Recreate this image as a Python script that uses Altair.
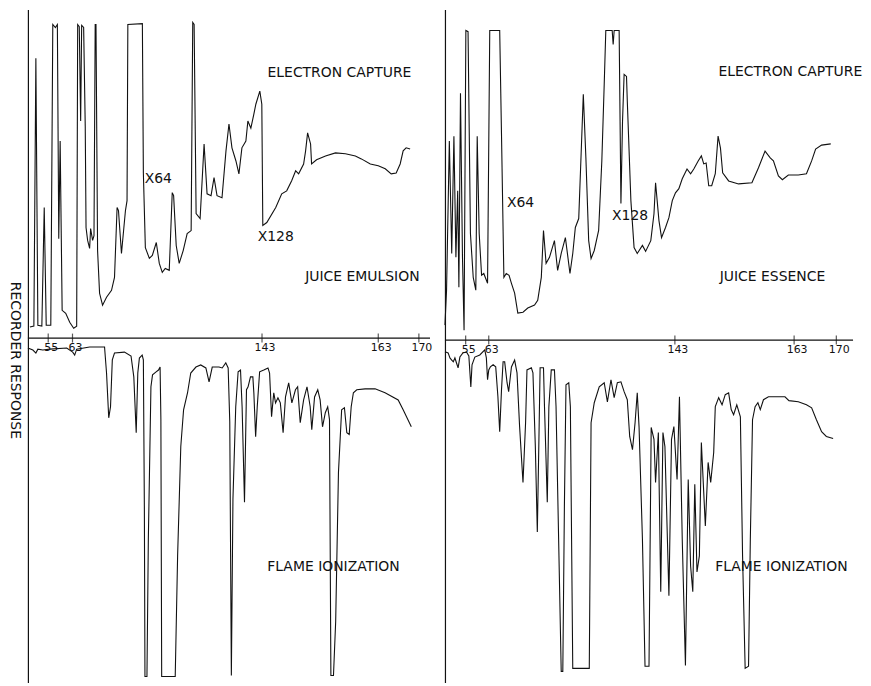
import altair as alt
import pandas as pd

# ---------------- Juice emulsion (left) ----------------
# electron capture trace (time units, response units)
emul_ec_time = [0.5, 1.5, 2.0, 2.5, 3.5, 4.1, 4.6, 5.75, 6.25, 6.9, 7.4, 7.75, 8.1, 8.6, 9.5, 10.5,
                11.5, 12.25, 12.5, 12.9, 13.25, 13.5, 14.0, 14.4, 14.6, 15.0, 15.5, 15.75, 16.25, 16.6,
                16.9, 17.1, 17.5, 18.0, 18.75, 19.75, 21.0, 21.75, 22.4, 22.75, 23.5, 24.5, 24.9, 25.1,
                28.75, 29.0, 29.5, 30.5, 31.25, 32.25, 33.0, 33.75, 34.5, 35.5, 36.25, 36.6, 37.25, 38.0,
                39.0, 40.0, 41.0, 41.4, 41.75, 42.25, 43.25, 44.25, 45.0, 46.0, 46.75, 47.5, 48.75, 49.75,
                50.5, 51.25, 52.25, 53.0, 53.75, 54.75, 55.25, 56.0, 56.75, 57.25, 58.25, 58.75, 59.0,
                60.0, 62.25, 63.75, 65.0, 66.25, 67.25, 68.0, 69.25, 69.75, 70.25, 71.0, 71.25, 72.5,
                74.75, 77.25, 79.75, 82.25, 83.75, 86.0, 88.0, 89.75, 91.25, 92.5, 93.5, 94.25, 95.0, 96.0]
emul_ec_resp = [3.7, 4.0, 93.7, 4.3, 4.0, 43.7, 4.3, 4.3, 105, 104, 105, 33.3, 66, 9.3, 8.3, 5.3,
                3.3, 4.0, 105, 104.3, 72.7, 104.7, 104, 71, 37, 32.7, 30, 36.7, 32.7, 34.3,
                105, 105, 29.3, 15, 11, 13.7, 16, 20.3, 43.7, 42.7, 28.3, 42.7, 46, 105,
                105.3, 55.3, 30.3, 26.7, 27.7, 32, 25, 22, 23.3, 22.7, 48.7, 47.7, 31, 25,
                29.3, 35, 36, 105.7, 105, 41.7, 40, 65, 48.3, 47.7, 53.7, 47.7, 47, 62.7,
                71.7, 63.7, 59.3, 55, 63.7, 66, 72.7, 70.3, 75, 78.3, 82.7, 78.3, 37.7,
                38.7, 43.7, 48.3, 49.3, 52.7, 56, 55, 58.3, 62.7, 68.7, 65, 58.3, 59.7,
                61, 62, 61.7, 61, 60, 58.3, 57.7, 56.7, 55, 55.3, 58.3, 62.7, 63.7, 63.3]

# flame ionization trace
emul_fid_time = [0.0, 1.25, 2.0, 2.5, 3.75, 5.5, 9.75, 11.25, 11.75, 12.25, 15.5, 19.25, 19.75, 20.3,
                 20.75, 21.2, 21.75, 24.25, 25.9, 26.6, 27.2, 27.6, 28.0, 28.7, 29.0, 29.25, 29.4, 29.9,
                 30.25, 30.9, 31.3, 32.2, 32.8, 33.2, 33.4, 33.6, 37.0, 37.6, 38.4, 39.1, 40.1, 40.9,
                 42.2, 43.4, 44.7, 45.5, 46.3, 48.0, 48.8, 49.7, 50.3, 50.7, 51.1, 51.5, 52.2, 52.8,
                 53.4, 53.8, 54.4, 54.9, 55.3, 55.9, 56.5, 56.75, 57.2, 57.6, 58.2, 59.25, 60.3, 60.7,
                 61.2, 61.75, 62.2, 62.8, 63.4, 64.1, 64.7, 65.5, 66.3, 67.2, 67.75, 68.4, 69.25, 70.1,
                 70.9, 71.3, 72.0, 72.8, 73.4, 74.0, 74.7, 75.3, 75.75, 76.1, 76.75, 77.3, 78.0, 78.8,
                 79.5, 80.1, 80.7, 81.2, 81.75, 82.6, 84.7, 87.2, 89.7, 93.0, 94.25, 96.3]
emul_fid_resp = [-3.3, -4, -5, -3.7, -4, -3.7, -3.3, -4.7, -5.7, -3.7, -3, -3, -11.7, -26.7,
                 -23, -7.3, -5, -4.7, -6, -13, -31.7, -11.7, -6.7, -5.7, -7.3, -56.3, -113.3, -113.3,
                 -67.3, -16.3, -12.3, -11.3, -10.7, -9.7, -27.3, -113.3, -113.3, -73, -36.3, -24, -18.3, -11.7,
                 -9.7, -9, -10, -14.7, -9.7, -9.7, -10, -8.3, -10, -28, -113, -54, -23, -11.3,
                 -10.7, -23, -55, -17.3, -16.3, -13, -13, -18.3, -33, -23, -11.3, -10.7, -10, -11.7,
                 -26.3, -18.3, -21.7, -20, -21.7, -31.7, -19.7, -15, -21.7, -17.3, -16.3, -28.3, -20.7, -16.3,
                 -23, -30.7, -19.7, -17.3, -20.7, -29.7, -25, -23, -27.3, -113, -113, -95, -45, -24,
                 -23.3, -31.7, -32.3, -23, -18.3, -17.3, -17, -17, -18.3, -20.7, -24, -29.7]

# ---------------- Juice essence (right) ----------------
ess_ec_time = [0.0, 0.4, 1.1, 1.7, 2.25, 2.75, 3.2, 3.5, 3.9, 4.4, 4.8, 5.25, 5.8, 6.4, 7.1, 7.75,
               8.1, 8.6, 9.2, 9.75, 10.7, 11.25, 13.75, 14.2, 14.8, 15.4, 16.1, 16.7, 17.5, 18.3,
               19.6, 20.8, 22.5, 23.3, 24.2, 24.75, 25.4, 26.25, 27.5, 28.3, 29.2, 30.25, 31.4, 32.1,
               32.75, 33.6, 34.2, 34.75, 35.4, 36.1, 36.7, 37.5, 38.6, 39.4, 40.0, 40.4, 42.0, 42.25,
               42.5, 43.75, 44.2, 44.6, 45.0, 45.6, 45.8, 46.7, 47.5, 48.3, 49.6, 50.4, 51.7, 52.5,
               52.9, 53.75, 54.4, 55.4, 56.25, 57.1, 57.9, 58.75, 59.6, 60.8, 61.7, 62.5, 63.6, 64.4,
               65.0, 65.6, 66.25, 67.0, 67.9, 68.6, 69.2, 69.75, 71.25, 73.75, 77.1, 78.75, 80.4, 81.7,
               82.5, 83.75, 84.75, 86.25, 88.75, 90.8, 92.1, 93.1, 94.6, 96.9]
ess_ec_resp = [5, 16.7, 66.7, 29, 68.3, 27.7, 50, 17.7, 82.7, 27.7, 3.3, 103.7, 103.3, 35.7, 21, 16.7,
               68.3, 35.7, 21.7, 22.3, 19, 103.7, 103.7, 69, 21, 22.3, 21.7, 19, 15.7, 9,
               9.3, 10.7, 11.7, 13.3, 21, 36.7, 25.7, 27.7, 33.3, 23.3, 29, 34.3, 22.3, 29,
               37.7, 40.7, 62.3, 82.3, 61, 33.3, 27.3, 30, 36.7, 60, 85.7, 103.7, 103.7, 99,
               103.7, 103.7, 45.7, 73.3, 89, 88.3, 80, 46.7, 31, 29, 31.7, 29.7, 33.3, 42.3,
               52.7, 40, 34.3, 37.7, 41, 46.7, 49.3, 50.7, 54, 57.3, 55.7, 57.3, 60, 61.7,
               59, 59.3, 51.7, 51.7, 55.7, 68.3, 64.3, 56, 53.3, 52.3, 52.7, 57.7, 63.3, 61,
               60, 55, 53.7, 55.3, 55.3, 55.7, 60, 64, 65.3, 65.7]

ess_fid_time = [0.0, 0.8, 1.25, 1.7, 2.1, 2.5, 2.9, 3.3, 3.75, 4.5, 5.4, 6.0, 6.5, 6.8, 7.5, 8.75,
                10.0, 10.4, 10.7, 11.0, 11.4, 12.1, 12.75, 13.3, 13.75, 14.2, 14.6, 15.0, 15.6, 16.0,
                16.7, 17.5, 18.1, 18.75, 19.6, 20.25, 20.6, 21.7, 22.1, 22.7, 23.2, 23.6, 23.9, 24.75,
                25.0, 25.7, 26.1, 26.7, 27.5, 27.9, 29.2, 29.6, 30.0, 30.4, 31.1, 31.5, 32.1, 36.25,
                36.7, 37.5, 38.75, 40.0, 40.8, 41.7, 42.5, 43.3, 44.2, 45.0, 45.8, 46.4, 47.1, 47.75,
                48.3, 48.75, 49.6, 50.25, 51.25, 51.8, 52.5, 52.9, 53.6, 54.2, 54.75, 55.25, 56.25, 56.9,
                57.5, 58.3, 58.9, 59.6, 60.4, 61.1, 61.7, 62.25, 62.75, 63.3, 63.9, 64.4, 65.4, 66.1,
                66.75, 67.5, 67.9, 68.75, 69.6, 70.4, 71.25, 71.9, 72.5, 73.3, 74.2, 74.75, 75.4, 76.25,
                76.7, 77.25, 77.9, 78.6, 79.2, 80.0, 81.25, 83.3, 85.4, 86.4, 88.75, 90.8, 92.1, 93.3,
                94.6, 95.8, 97.5]
ess_fid_resp = [-3.9, -4.3, -6, -6.7, -7.3, -6, -7.7, -9.3, -5.7, -4.3, -4, -5.3, -15.7, -8.3, -5.7, -5,
                -3.3, -6, -13.3, -10, -9, -8.3, -9, -19, -30.7, -16.7, -7.3, -7.3, -14.3, -17.3,
                -9, -6.7, -11, -29, -47.7, -27.7, -10, -9.3, -11, -35.7, -64.3, -33.3, -9.3, -9.3,
                -22.3, -54.3, -22.3, -10, -10, -22.3, -111, -111, -55.7, -15, -14.3, -22.3, -110, -110,
                -27.7, -21, -15.7, -14.3, -20.7, -13.3, -19.3, -14.3, -14, -17.3, -20, -32.3, -36.7, -27.7,
                -17.7, -29, -66.7, -109.3, -109.3, -29.3, -33.3, -47.7, -31, -84.3, -31, -35.7, -85.7, -33.3,
                -29, -46.7, -19, -66.7, -109, -46.7, -75.7, -84.3, -48.3, -77.7, -72.3, -34.3, -62.3, -41,
                -47.7, -37.7, -22.3, -19.3, -21.7, -18.3, -17.7, -23.3, -25, -21.7, -25.7, -72.3, -110, -109.3,
                -66.7, -26.7, -22.3, -21, -23.3, -20, -19, -19, -19, -20.3, -20.7, -21.7, -22.7, -26.7,
                -30.7, -32.3, -33]

# ---------------- axis ticks (temperature labels) ----------------
tick_labels = ["55", "63", "143", "163", "170"]
emul_tick_time = [5.1, 11.2, 58.8, 88.0, 98.2]
ess_tick_time = [5.2, 11.0, 57.75, 87.7, 98.3]
emul_axis_end = 101.0
ess_axis_end = 102.5

# ---------------- annotations ----------------
emul_notes = ["ELECTRON CAPTURE", "X64", "X128", "JUICE EMULSION", "FLAME IONIZATION"]
emul_note_time = [78.25, 32.75, 62.25, 84.0, 76.75]
emul_note_resp = [88.7, 53.3, 33.7, 20.3, -76.7]
ess_notes = ["ELECTRON CAPTURE", "X64", "X128", "JUICE ESSENCE", "FLAME IONIZATION"]
ess_note_time = [86.75, 19.0, 46.5, 82.25, 84.5]
ess_note_resp = [89.7, 46.0, 41.7, 21.0, -76.0]

FONT = "DejaVu Sans"
INK = "#111111"


def panel(ec_t, ec_v, fid_t, fid_v, tick_t, axis_end, notes, note_t, note_v, ydomain, ytitle):
    ec = pd.DataFrame({"t": ec_t, "v": ec_v, "i": list(range(len(ec_t))), "trace": "EC"})
    fid = pd.DataFrame({"t": fid_t, "v": fid_v, "i": list(range(len(fid_t))), "trace": "FID"})
    traces = pd.concat([ec, fid], ignore_index=True)
    ticks = pd.DataFrame({"t": tick_t, "label": tick_labels})
    ann = pd.DataFrame({"t": note_t, "v": note_v, "text": notes})

    xs = alt.Scale(domain=[0, 102.5], nice=False, zero=False)
    ys = alt.Scale(domain=ydomain, nice=False, zero=False)

    yaxis_kwargs = dict(labels=False, ticks=False, grid=False, domain=True,
                        domainColor=INK, domainWidth=1.2)
    if ytitle:
        yaxis_kwargs.update(title=ytitle, titleAngle=90, titleFont=FONT, titleFontSize=14,
                            titleFontWeight="normal", titleColor=INK, titleAlign="center",
                            titleBaseline="middle", titleX=-13, titleY=352)
    else:
        yaxis_kwargs.update(title=None)

    lines = alt.Chart(traces).mark_line(color=INK, strokeWidth=1.1, interpolate="linear").encode(
        x=alt.X("t:Q", scale=xs, axis=None),
        y=alt.Y("v:Q", scale=ys, axis=alt.Axis(**yaxis_kwargs)),
        detail="trace:N",
        order="i:Q",
    )

    base = alt.Chart(pd.DataFrame({"t0": [0.0], "t1": [axis_end], "v": [0.0]})).mark_rule(
        color=INK, strokeWidth=1.2
    ).encode(x=alt.X("t0:Q", scale=xs), x2="t1:Q", y=alt.Y("v:Q", scale=ys))

    tk = alt.Chart(ticks).mark_tick(color=INK, size=9, thickness=1.2).encode(
        x=alt.X("t:Q", scale=xs), y=alt.datum(0)
    )
    tl = alt.Chart(ticks).mark_text(font=FONT, fontSize=11, color=INK, dx=3, dy=10,
                                    baseline="middle").encode(
        x=alt.X("t:Q", scale=xs), y=alt.datum(0), text="label:N"
    )
    tx = alt.Chart(ann).mark_text(font=FONT, fontSize=14, color=INK, baseline="middle").encode(
        x=alt.X("t:Q", scale=xs), y=alt.Y("v:Q", scale=ys), text="text:N"
    )
    return alt.layer(lines, base, tk, tl, tx).properties(width=410, height=676)


left = panel(emul_ec_time, emul_ec_resp, emul_fid_time, emul_fid_resp, emul_tick_time,
             emul_axis_end, emul_notes, emul_note_time, emul_note_resp, [-115.3, 110.0],
             "RECORDER RESPONSE")
right = panel(ess_ec_time, ess_ec_resp, ess_fid_time, ess_fid_resp, ess_tick_time,
              ess_axis_end, ess_notes, ess_note_time, ess_note_resp, [-114.7, 110.7], None)

chart = alt.hconcat(left, right, spacing=6).properties(padding=0).configure_view(stroke=None)

chart.save("out.html", embed_options={"renderer": "svg", "actions": False})
